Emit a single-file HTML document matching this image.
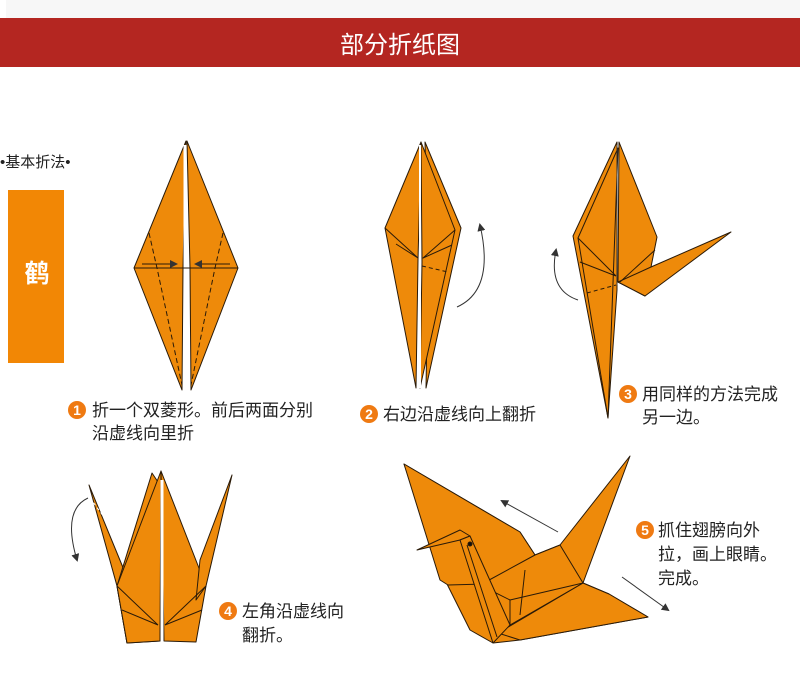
<!DOCTYPE html>
<html><head><meta charset="utf-8">
<style>
html,body{margin:0;padding:0;background:#fff;}
body{width:800px;height:693px;overflow:hidden;position:relative;}
svg{position:absolute;left:0;top:0;}
text{font-family:"Liberation Sans","Noto Sans CJK SC",sans-serif;}
</style></head><body>
<svg width="800" height="693" viewBox="0 0 800 693" xmlns="http://www.w3.org/2000/svg">
<defs>
<marker id="ah" markerWidth="8" markerHeight="8" refX="6" refY="4" orient="auto" markerUnits="userSpaceOnUse">
<path d="M0,0 L8,4 L0,8 Z" fill="#333"/></marker>
</defs>
<rect x="6" y="0" width="794" height="18" fill="#f7f7f7"/>
<rect x="0" y="18" width="800" height="49" fill="#b42621"/>
<text x="400" y="53" font-size="24" fill="#fff" text-anchor="middle">部分折纸图</text>

<text x="0" y="167" font-size="15" fill="#222">•基本折法•</text>
<rect x="8" y="190" width="56" height="173" fill="#f28705"/>
<text x="37" y="282" font-size="25" fill="#fff" text-anchor="middle" font-weight="bold">鹤</text>

<g stroke="#2a1a08" stroke-width="1" fill="#ee8a0a" stroke-linejoin="round">
<!-- fig1 -->
<polygon points="186,141 134,268 182,390 183,268"/>
<polygon points="187,141 238,268 191,390 190,268"/>
<line x1="185" y1="145" x2="185" y2="390" stroke="#fff" stroke-width="3"/>
<line x1="134" y1="268" x2="238" y2="268"/>
<path d="M149,233 L157,268 L182,385 M223,233 L215,268 L191,385" fill="none" stroke-dasharray="5,3"/>
<line x1="142" y1="264" x2="176" y2="264" marker-end="url(#ah)"/>
<line x1="230" y1="264" x2="196" y2="264" marker-end="url(#ah)"/>

<!-- fig2 -->
<polygon points="425,142 461,228 426,388 428,270"/>
<polygon points="421,142 455,230 420,388 422,262"/>
<polygon points="421,142 385,228 416,388 418,260"/>
<line x1="420" y1="145" x2="420" y2="388" stroke="#fff" stroke-width="2"/>
<path d="M385,228 L418,258 L396,244 M455,230 L423,258 L452,245" fill="none"/>
<path d="M422,266 L448,272" fill="none" stroke-dasharray="4,3"/>
<path d="M457,307 Q495,290 480,225" fill="none" stroke="#333" marker-end="url(#ah)"/>

<!-- fig3 -->
<polygon points="617,142 573,236 608,418 617,290"/>
<polygon points="619,142 657,237 651,267 645,296 618,282"/>
<polygon points="618,282 651,267 731,232 645,296"/>
<polygon points="618,148 578,238 608,418"/>
<line x1="617" y1="145" x2="617" y2="285" stroke="#333"/>
<path d="M578,238 L616,276 M580,262 L616,276 M620,282 L655,250" fill="none"/>
<path d="M587,293 L616,285" fill="none" stroke-dasharray="4,3"/>
<path d="M578,300 Q548,290 556,250" fill="none" stroke="#333" marker-end="url(#ah)"/>

<!-- fig4 -->
<polygon points="89,485 124,570 127,643 117,586"/>
<polygon points="152,473 117,586 127,643 160,641 160,485"/>
<polygon points="161,471 206,586 196,642 164,641"/>
<polygon points="232,475 206,586 196,600 200,560"/>
<polygon points="161,471 117,586 127,643 160,641"/>
<line x1="162" y1="480" x2="162" y2="641" stroke="#fff" stroke-width="3"/>
<path d="M117,586 L158,625 M122,610 L158,625 M206,586 L165,625 M202,610 L165,625" fill="none"/>
<path d="M88,498 Q62,510 77,560" fill="none" stroke="#333" marker-end="url(#ah)"/>
<path d="M90,498 L112,528" fill="none" stroke="#fff" stroke-dasharray="3,3"/>

<!-- fig5 -->
<polygon points="404,464 520,532 535,555 560,545 630,456 583,583 609,594 648,617 520,640 493,643 470,630 450,590 445,580"/>
<polygon points="404,464 520,532 535,555 485,584 448,585 440,580"/>
<path d="M535,555 L560,545 L583,583 L510,600 L480,585 Z"/>
<polygon points="583,583 609,594 648,617 520,640 498,633"/>
<polygon points="417,550 460,530 470,536 460,540"/>
<polygon points="460,540 470,536 510,625 493,643"/>
<circle cx="470" cy="544" r="2" fill="#111"/>
<path d="M467,545 L497,637 M510,625 L583,583 M510,600 L510,625 M525,570 L520,615" fill="none"/>
<line x1="558" y1="532" x2="502" y2="501" stroke="#333" marker-end="url(#ah)"/>
<line x1="622" y1="577" x2="668" y2="610" stroke="#333" marker-end="url(#ah)"/>
</g>

<g font-size="17" fill="#222">
<circle cx="77" cy="410" r="9" fill="#ef7a12"/><text x="77" y="415" font-size="14" fill="#fff" text-anchor="middle" font-weight="bold">1</text>
<text x="92" y="416">折一个双菱形。前后两面分别</text>
<text x="92" y="439">沿虚线向里折</text>

<circle cx="369" cy="414" r="9" fill="#ef7a12"/><text x="369" y="419" font-size="14" fill="#fff" text-anchor="middle" font-weight="bold">2</text>
<text x="383" y="420">右边沿虚线向上翻折</text>

<circle cx="628" cy="394" r="9" fill="#ef7a12"/><text x="628" y="399" font-size="14" fill="#fff" text-anchor="middle" font-weight="bold">3</text>
<text x="642" y="400">用同样的方法完成</text>
<text x="642" y="423">另一边。</text>

<circle cx="228" cy="611" r="9" fill="#ef7a12"/><text x="228" y="616" font-size="14" fill="#fff" text-anchor="middle" font-weight="bold">4</text>
<text x="242" y="617">左角沿虚线向</text>
<text x="242" y="641">翻折。</text>

<circle cx="645" cy="530" r="9" fill="#ef7a12"/><text x="645" y="535" font-size="14" fill="#fff" text-anchor="middle" font-weight="bold">5</text>
<text x="658" y="536">抓住翅膀向外</text>
<text x="658" y="560">拉，画上眼睛。</text>
<text x="658" y="584">完成。</text>
</g>
</svg>
</body></html>
